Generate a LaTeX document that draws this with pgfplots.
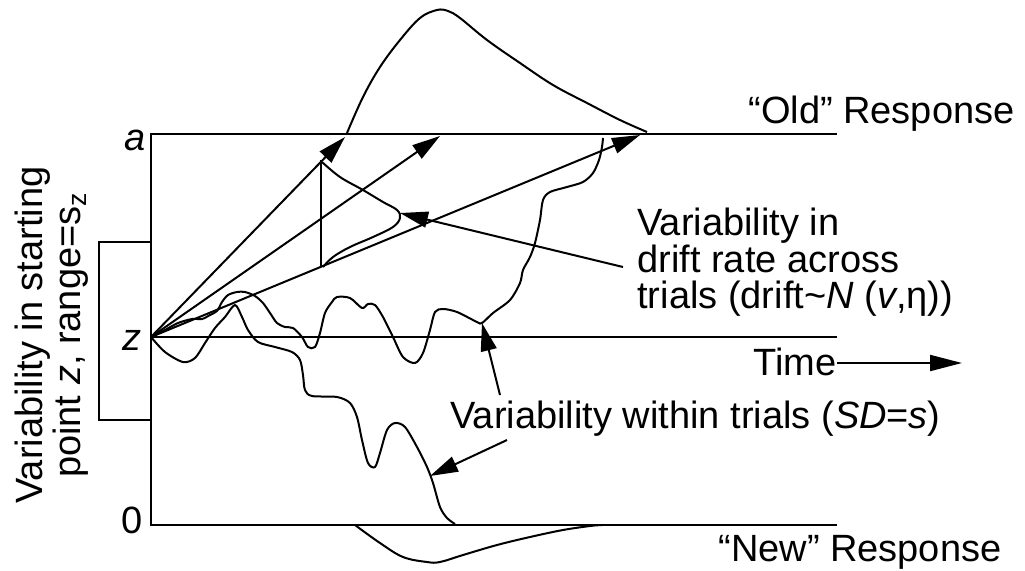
\documentclass[border=0pt]{standalone}
\usepackage{fontspec}
\setmainfont{Liberation Sans}
\usepackage{pgfplots}
\pgfplotsset{compat=1.18}
\usetikzlibrary{arrows.meta}
\newcommand\ff{\fontsize{19}{19}\selectfont}
\begin{document}
\begin{tikzpicture}
\begin{axis}[
    width=512.5pt, height=285pt, scale only axis,
    xmin=0, xmax=1025, ymin=0, ymax=570, y dir=reverse,
    hide axis, clip=false,
    every axis plot/.append style={black, line width=1pt, mark=none},
    arr/.style={-{Triangle[length=14pt,width=8pt]}},
  ]
  \path (axis cs:0,0) (axis cs:1025,570);
  % boundaries
  \addplot[] coordinates {(837,134) (151,134) (151,525) (837,525)};
  \addplot[] coordinates {(151,337) (837,337)};
  % starting point box
  \addplot[] coordinates {(151,242) (99,242) (99,420) (151,420)};
  % drift rates
  \addplot[arr] coordinates {(151,337) (345,137)};
  \addplot[arr] coordinates {(151,337) (440,136)};
  \addplot[arr] coordinates {(151,337) (640,135)};
  \addplot[] coordinates {(321,160) (321,267)};
  % drift distribution
  \addplot[smooth, tension=0.6] coordinates {(322,162) (340,177) (363,190) (383,202) (397,210) (400,218) (393,227) (373,237) (350,247) (333,257) (323,267)};
  % RT distributions
  \addplot[smooth, tension=0.6] coordinates {(347,133) (363,97) (380,67) (400,40) (420,18) (437,10) (448,11) (460,18) (487,40) (520,63) (553,85) (587,103) (620,120) (647,132)};
  \addplot[smooth, tension=0.6] coordinates {(355,525) (380,543) (403,557) (427,562) (440,562) (463,555) (497,545) (530,537) (563,530) (590,526) (602,525)};
  % random walk to upper boundary
  \addplot[smooth, tension=0.5] coordinates {(151,337) (165,330) (178,323) (192,319) (202,319) (210,315) (217,311) (222,302) (228,295) (237,292) (245,292) (255,296) (263,303) (270,313) (277,323) (285,327) (293,328) (302,337) (308,347) (315,347) (320,333) (325,313) (332,302) (337,297) (350,298) (362,308) (368,304) (375,305) (383,317) (393,337) (403,357) (415,363) (423,353) (430,330) (435,312) (443,309) (457,312) (477,322) (482,323) (493,313) (510,300) (520,283) (523,270) (530,257) (535,243) (540,220) (543,200) (550,192) (567,187) (583,182) (593,173) (599,160) (602,147) (603,138)};
  % random walk to lower boundary
  \addplot[smooth, tension=0.5] coordinates {(151,337) (165,352) (183,362) (195,358) (205,343) (215,328) (225,317) (235,305) (242,317) (248,330) (258,342) (275,347) (292,352) (300,360) (303,375) (305,390) (312,396) (337,397) (350,403) (357,417) (362,440) (368,463) (375,467) (380,453) (387,430) (395,423) (405,427) (417,447) (427,467) (433,483) (440,507) (447,518) (455,524)};
  % pointers
  \addplot[arr] coordinates {(623,267) (400,213)};
  \addplot[arr] coordinates {(500,395) (482,323)};
  \addplot[arr] coordinates {(507,440) (430,476)};
  \addplot[-{Triangle[length=16pt,width=8pt]}] coordinates {(837,363) (962,363)};
  % labels
  \node[anchor=base, font=\ff\itshape, inner sep=0] at (axis cs:135,150) {a};
  \node[anchor=base, font=\ff\itshape, inner sep=0] at (axis cs:132,350) {z};
  \node[anchor=base, font=\ff, inner sep=0] at (axis cs:132,533) {0};
  \node[rotate=90, align=center, font=\ff, inner sep=0] at (axis cs:52,335) {Variability in starting\\point \textit{z}, range=s\textsubscript{z}};
  \node[anchor=base west, font=\ff, inner sep=0] at (axis cs:748,123) {“Old” Response};
  \node[anchor=base west, font=\ff, inner sep=0] at (axis cs:718,561) {“New” Response};
  \node[anchor=base east, font=\ff, inner sep=0] at (axis cs:837,375) {Time};
  \node[anchor=base west, font=\ff, inner sep=0] at (axis cs:637,235) {Variability in};
  \node[anchor=base west, font=\ff, inner sep=0] at (axis cs:637,272) {drift rate across};
  \node[anchor=base west, font=\ff, inner sep=0] at (axis cs:637,308) {trials (drift\textasciitilde\textit{N} (\textit{v},η))};
  \node[anchor=base west, font=\ff, inner sep=0] at (axis cs:450,428) {Variability within trials (\textit{SD}=\textit{s})};
\end{axis}
\end{tikzpicture}
\end{document}
